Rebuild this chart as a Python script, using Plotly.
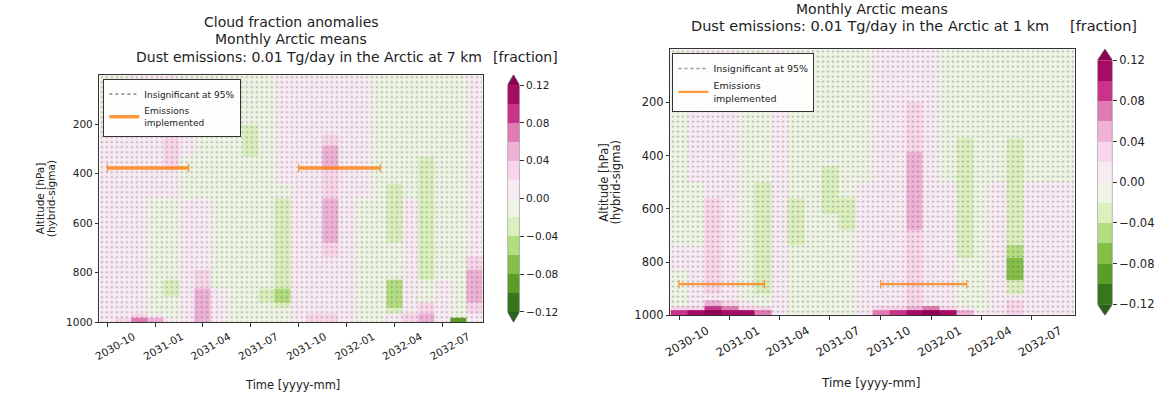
import numpy as np
import pandas as pd
import plotly.graph_objects as go

W, H = 1174, 399
FONT = "DejaVu Sans"
TXT = "#222222"
ORANGE = "#ff7f0e"

# ---------------- data ----------------
months = ["2030-10", "2030-11", "2030-12", "2031-01", "2031-02", "2031-03",
          "2031-04", "2031-05", "2031-06", "2031-07", "2031-08", "2031-09",
          "2031-10", "2031-11", "2031-12", "2032-01", "2032-02", "2032-03",
          "2032-04", "2032-05", "2032-06", "2032-07", "2032-08", "2032-09"]

# model layer interfaces (hPa), top -> surface
level_interfaces_hpa = [0, 12.5, 32.5, 60, 90, 122.5, 160, 200, 241, 285, 333, 385, 441,
                        500, 560, 620, 679, 735, 786, 830, 866, 895, 920, 943, 963.5, 982, 1000]

tick_months = ["2030-10", "2031-01", "2031-04", "2031-07",
               "2031-10", "2032-01", "2032-04", "2032-07"]
ytick_hpa = [200, 400, 600, 800, 1000]

cbar_levels = [-0.12, -0.10, -0.08, -0.06, -0.04, -0.02, 0.0,
               0.02, 0.04, 0.06, 0.08, 0.10, 0.12]
cbar_ticks = [-0.12, -0.08, -0.04, 0.0, 0.04, 0.08, 0.12]
cbar_ticktext = ["\u22120.12", "\u22120.08", "\u22120.04", "0.00", "0.04", "0.08", "0.12"]
band_colors = ["#37771c", "#5a9d29", "#84bf47", "#b3de80", "#dbf0be", "#eef5e4",
               "#f9ebf3", "#fad6ea", "#efb1d6", "#e07cb2", "#cb3289", "#a50c64"]
under_color = "#276419"
over_color = "#8e0152"

# cloud-fraction anomaly, hundredths; one profile per month, layers top -> surface
cf_anom_7km = [
    [-1, -1, -1, -1, -1, -1, -1, 1, 1, 1, 1, 1, 1,   1, 1, 1, 1, 1, 1, 1, 1, 1, 1, 1, 1, 1],
    [-1, -1, -1, -1, -1, 1, 1, 1, 1, 1, 1, 1, 1,     1, 1, 1, 1, 1, 1, 1, 1, 1, 1, 1, 1, 3],
    [1, 1, 1, 1, 1, 1, 1, 1, 1, 1, 1, 1, 1,          1, 1, 1, 1, 1, 1, 1, 1, 1, 1, 1, 3, 7],
    [1, 1, 1, 1, 1, 1, 1, 1, 1, 1, 1, 1, 1,          -1, -1, -1, -1, -1, -1, -1, -1, -1, -1, -1, 1, 5],
    [1, 1, 1, 1, 1, 1, 1, 3, 3, 3, 3, 1, 1,          -1, -1, -1, -1, -1, -1, -3, -3, -1, -1, -1, -1, 1],
    [-1, -1, -1, -1, -1, -1, -1, 1, 1, 1, -1, -1, -1, 1, 1, 1, 1, 1, 1, 1, 1, 1, 1, 1, 1, 1],
    [-1, -1, -1, -1, -1, -1, -1, -1, -1, -1, -1, -1, -1, 1, 1, 1, 1, 1, 3, 3, 5, 5, 5, 5, 5, 5],
    [-1, -1, -1, -1, -1, -1, -1, -1, -1, -1, -1, -1, -1, -1, -1, -1, -1, -1, -1, -1, 1, 1, 1, 1, 1, 1],
    [-1, -1, -1, -1, -1, -1, -1, -1, -1, -1, -1, -1, -1, -1, -1, -1, -1, -1, -1, -1, -1, -1, -1, -1, -1, -1],
    [-1, -1, -1, -1, -1, -1, -1, -3, -3, -3, -1, -1, -1, -1, -1, -1, -1, -1, -1, -1, -1, -1, -1, -1, -1, -1],
    [-1, -1, -1, -1, -1, -1, -1, -1, -1, -1, -1, -1, -1, -1, -1, -1, -1, -1, -1, -1, -3, -3, -1, -1, -1, -1],
    [1, 1, 1, 1, 1, 1, 1, 1, 1, 1, 1, 1, -1,         -3, -3, -3, -3, -3, -3, -3, -5, -5, -3, -1, -1, -1],
    [1, 1, 1, 1, 1, 1, 1, 1, 1, 1, 1, 1, 1,          1, 1, 1, 1, 1, 1, 1, 1, 1, 1, 1, 1, 1],
    [1, 1, 1, 1, 1, 1, 1, 1, 1, 1, 1, 1, 1,          1, 1, 1, 1, 1, 1, 1, 1, 1, 1, 1, 3, 3],
    [1, 1, 1, 1, 1, 1, 1, 1, 3, 5, 5, 3, 3,          5, 5, 5, 3, 1, 1, 1, 1, 1, 1, 1, 3, 3],
    [1, 1, 1, 1, 1, 1, 1, 1, 1, 1, 1, 1, 1,          1, 1, 1, 1, 1, 1, 1, 1, 1, 1, 1, 1, 1],
    [1, 1, 1, 1, 1, 1, 1, 1, 1, 1, 1, 1, 1,          -1, -1, -1, -1, -1, -1, -1, -1, -1, -1, -1, -1, -1],
    [-1, -1, -1, -1, -1, -1, -1, -1, -1, -1, -1, -1, -1, -1, -1, -1, -1, -1, -1, -1, -1, -1, -1, -1, -1, -1],
    [-1, -1, -1, -1, -1, -1, -1, -1, -1, -1, -1, -1, -3, -3, -3, -3, -1, -1, -1, -5, -5, -5, -5, -3, 1, 1],
    [-1, -1, -1, -1, -1, -1, -1, -1, -1, -1, -1, -1, -1, 1, 1, 1, 1, 1, 1, 1, 1, 1, 1, 1, 3, 3],
    [-1, -1, -1, -1, -1, -1, -1, -1, -1, -1, -3, -3, -3, -3, -3, -3, -3, -3, -3, -1, -1, -1, 3, 3, 5, 5],
    [-1, -1, -1, -1, -1, -1, -1, -1, -1, -1, -1, -1, -1, -1, -1, -1, -1, -1, -1, 1, 1, 1, 1, 1, 1, 1],
    [-1, -1, -1, -1, -1, -1, -1, -1, -1, -1, -1, -1, -1, -1, -1, -1, -1, -1, -1, -1, -1, -1, -1, -1, -1, -9],
    [1, 1, 1, 1, 1, 1, 1, 1, 1, 1, 1, 1, 1,          1, 1, 1, 1, 3, 5, 5, 5, 5, 3, 3, 1, 1],
]

cf_anom_1km = [
    [-1, -1, -1, -1, -1, -1, -1, -1, -1, -1, -1, -1, -1, -1, -1, -1, -1, 1, 1, -1, -1, -1, -1, -1, 3, 9],
    [1, 1, 1, 1, 1, 1, 1, 1, 1, 1, 1, 1, 1,          -1, -1, -1, -1, 1, 1, 1, 1, 1, 1, 1, 3, 11],
    [1, 1, 1, 1, 1, 1, 1, 1, 1, 1, 1, 1, 1,          1, 3, 3, 3, 3, 3, 3, 3, 3, 1, 5, 9, 13],
    [1, 1, 1, 1, 1, 1, 1, 1, 1, 1, 1, 1, 1,          1, 1, 1, 1, 1, 1, 1, 1, 1, 1, 3, 7, 11],
    [-1, -1, -1, -1, -1, -1, -1, -1, -1, -1, -1, -1, -1, -1, -1, -1, -1, -1, -1, -1, -1, -1, -1, 1, 3, 11],
    [-1, -1, -1, -1, -1, -1, -1, -1, -1, -1, -1, -1, -1, -3, -3, -3, -3, -3, -3, -3, -3, -3, -1, -1, 3, 7],
    [1, 1, 1, 1, 1, 1, 1, 1, 1, 1, 1, 1, 1,          1, 1, 1, 1, 1, 1, 1, 1, 1, 1, 1, 1, 1],
    [-1, -1, -1, -1, -1, -1, -1, -1, -1, -1, -1, -1, -1, -1, -3, -3, -3, -1, -1, -1, -1, -1, -1, -1, -1, -1],
    [-1, -1, -1, -1, -1, -1, -1, -1, -1, -1, -1, -1, -1, -1, -1, -1, -1, -1, -1, -1, -1, -1, -1, -1, -1, -1],
    [-1, -1, -1, -1, -1, -1, -1, -1, -1, -1, -1, -1, -3, -3, -3, -1, -1, -1, -1, -1, -1, -1, -1, -1, -1, -1],
    [-1, -1, -1, -1, -1, -1, -1, -1, -1, -1, -1, -1, -1, -1, -3, -3, -1, -1, -1, -1, -1, -1, -1, -1, -1, -1],
    [-1, -1, -1, -1, -1, -1, -1, -1, -1, -1, -1, -1, -1, 1, 1, 1, 1, 1, 1, 1, 1, 1, 1, 1, 1, 1],
    [1, 1, 1, 1, 1, 1, 1, 1, 1, 1, 1, 1, 1,          1, 1, 1, 1, 1, 1, 1, 1, 1, 1, 1, 3, 7],
    [1, 1, 1, 1, 1, 1, 1, 1, 1, 1, 1, 1, 1,          1, 1, 1, 1, 1, 1, 1, 1, 1, 1, 1, 3, 9],
    [1, 1, 1, 1, 1, 1, 1, 3, 3, 3, 3, 5, 5,          5, 5, 5, 3, 3, 3, 3, 3, 3, 3, 3, 5, 11],
    [1, 1, 1, 1, 1, 1, 1, 1, 1, 1, 1, 1, 1,          1, 1, 1, 1, 1, 1, 1, 1, 1, 1, 1, 7, 13],
    [-1, -1, -1, -1, -1, -1, -1, -1, -1, -1, -1, -1, -1, 1, 1, 1, 1, 1, 1, 1, 1, 1, 1, 1, 3, 11],
    [-1, -1, -1, -1, -1, -1, -1, -1, -1, -1, -3, -3, -3, -3, -3, -3, -3, -3, -1, -1, -1, -1, -1, -1, 1, 5],
    [-1, -1, -1, -1, -1, -1, -1, -1, -1, -1, -1, -1, -1, -1, -1, -1, -1, -1, -1, -1, -1, -1, -1, -1, -1, 1],
    [-1, -1, -1, -1, -1, -1, -1, -1, -1, -1, -1, -1, -1, 1, 1, 1, 1, 1, 1, 1, 1, 1, 1, 1, 1, 1],
    [-1, -1, -1, -1, -1, -1, -1, -1, -1, -1, -3, -3, -3, -3, -3, -3, -3, -5, -7, -7, -3, -3, 1, 3, 3, 3],
    [-1, -1, -1, -1, -1, -1, -1, -1, -1, -1, -1, -1, -1, 1, 1, 1, 1, 1, 1, 1, 1, 1, 1, 1, 1, 1],
    [-1, -1, -1, -1, -1, -1, -1, -1, -1, -1, -1, -1, -1, 1, 1, 1, 1, 1, 1, 1, 1, 1, 1, 1, 1, 1],
    [-1, -1, -1, -1, -1, -1, -1, -1, -1, -1, -1, -1, -1, 1, 1, 1, 1, 1, 1, 1, 1, 1, 1, 1, 1, 1],
]

# (month index, layer index) significant at 95% -> no stippling
significant_7km = []
significant_1km = [(0, 25), (1, 25), (2, 25), (3, 25), (4, 25),
                   (12, 25), (13, 25), (14, 25), (15, 25), (16, 25)]

emission_periods = [("2030-10-01", "2031-03-05"), ("2031-10-01", "2032-03-05")]
emission_level_7km_hpa = 377
emission_level_1km_hpa = 883

# ---------------- derived geometry ----------------
centers_ms = pd.to_datetime([m + "-01" for m in months]).values.astype("datetime64[ms]").astype("int64").astype(float)
mids = (centers_ms[:-1] + centers_ms[1:]) / 2
edges_ms = np.concatenate([[centers_ms[0] - (centers_ms[1] - centers_ms[0]) / 2], mids,
                           [centers_ms[-1] + (centers_ms[-1] - centers_ms[-2]) / 2]])


def ms2str(v):
    return pd.to_datetime(int(v), unit="ms").strftime("%Y-%m-%d %H:%M:%S")


edge_str = [ms2str(v) for v in edges_ms]

step = cbar_levels[1] - cbar_levels[0]
zmin, zmax = cbar_levels[0] - step, cbar_levels[-1] + step
all_colors = [under_color] + band_colors + [over_color]
ncol = len(all_colors)
colorscale = []
for i, c in enumerate(all_colors):
    colorscale += [[i / ncol, c], [(i + 1) / ncol, c]]


def stipple(sig):
    sigset = set(sig)
    nlev = len(level_interfaces_hpa) - 1
    xs, bases, heights, widths = [], [], [], []
    for i in range(len(months)):
        l = 0
        while l < nlev:
            if (i, l) in sigset:
                l += 1
                continue
            s = l
            while l < nlev and (i, l) not in sigset:
                l += 1
            xs.append(ms2str((edges_ms[i] + edges_ms[i + 1]) / 2))
            bases.append(level_interfaces_hpa[s])
            heights.append(level_interfaces_hpa[l] - level_interfaces_hpa[s])
            widths.append(edges_ms[i + 1] - edges_ms[i])
    return xs, bases, heights, widths


def xdom(a, b):
    return [a / W, b / W]


def ydom(top, bottom):
    return [1 - bottom / H, 1 - top / H]


fig = go.Figure()

panels = [
    dict(data=cf_anom_7km, sig=significant_7km, lev=emission_level_7km_hpa,
         xa="x", ya="y", cx="x3", cy="y3", leg="legend", lw=3.4, cap=0, fs=10.5),
    dict(data=cf_anom_1km, sig=significant_1km, lev=emission_level_1km_hpa,
         xa="x2", ya="y2", cx="x4", cy="y4", leg="legend2", lw=2.2, cap=6, fs=11.5),
]

band_mid = [(cbar_levels[i] + cbar_levels[i + 1]) / 2 for i in range(len(cbar_levels) - 1)]
ext = 0.011

for p in panels:
    z = (np.array(p["data"], dtype=float).T * 0.01).tolist()
    fig.add_trace(go.Heatmap(x=edge_str, y=level_interfaces_hpa, z=z, colorscale=colorscale,
                             zmin=zmin, zmax=zmax, showscale=False, hoverinfo="skip",
                             xaxis=p["xa"], yaxis=p["ya"]))
    xs, bases, heights, widths = stipple(p["sig"])
    fig.add_trace(go.Bar(x=xs, y=heights, base=bases, width=widths,
                         marker=dict(color="rgba(0,0,0,0)", line=dict(width=0),
                                     pattern=dict(shape=".", size=5, solidity=0.14,
                                                  fgcolor="#5e5e5e", fillmode="overlay")),
                         showlegend=False, hoverinfo="skip", xaxis=p["xa"], yaxis=p["ya"]))
    for s, e in emission_periods:
        fig.add_trace(go.Scatter(x=[s, e], y=[p["lev"], p["lev"]], mode="lines+markers",
                                 line=dict(color=ORANGE, width=p["lw"]), opacity=0.8,
                                 marker=dict(symbol="line-ns-open", size=p["cap"],
                                             line=dict(color=ORANGE, width=1.2)),
                                 showlegend=False, hoverinfo="skip",
                                 xaxis=p["xa"], yaxis=p["ya"]))
    # legend proxies
    fig.add_trace(go.Scatter(x=[None], y=[None], mode="lines", name="Insignificant at 95%",
                             line=dict(color="#9a9a9a", width=1.6, dash="dot"),
                             legend=p["leg"], xaxis=p["xa"], yaxis=p["ya"]))
    fig.add_trace(go.Scatter(x=[None], y=[None], mode="lines", name="Emissions<br>implemented",
                             line=dict(color=ORANGE, width=p["lw"]), opacity=0.8,
                             legend=p["leg"], xaxis=p["xa"], yaxis=p["ya"]))
    # colorbar
    fig.add_trace(go.Heatmap(x=[0], y=cbar_levels, z=[[v] for v in band_mid],
                             colorscale=colorscale, zmin=zmin, zmax=zmax, showscale=False,
                             hoverinfo="skip", xaxis=p["cx"], yaxis=p["cy"]))
    top, bot = cbar_levels[-1], cbar_levels[0]
    fig.add_trace(go.Scatter(x=[-0.5, 0.5, 0, -0.5], y=[top, top, top + ext, top], fill="toself",
                             fillcolor=over_color, mode="lines", line=dict(width=0),
                             showlegend=False, hoverinfo="skip", xaxis=p["cx"], yaxis=p["cy"]))
    fig.add_trace(go.Scatter(x=[-0.5, 0.5, 0, -0.5], y=[bot, bot, bot - ext, bot], fill="toself",
                             fillcolor=under_color, mode="lines", line=dict(width=0),
                             showlegend=False, hoverinfo="skip", xaxis=p["cx"], yaxis=p["cy"]))
    fig.add_trace(go.Scatter(x=[-0.5, -0.5, 0, 0.5, 0.5, 0, -0.5],
                             y=[bot, top, top + ext, top, bot, bot - ext, bot],
                             mode="lines", line=dict(color="#555", width=0.8),
                             showlegend=False, hoverinfo="skip", xaxis=p["cx"], yaxis=p["cy"]))


def main_x(dom, anchor, fs, shift):
    return dict(domain=dom, anchor=anchor, type="date", range=[edge_str[0], edge_str[-1]],
                tickmode="array", tickvals=[m + "-01" for m in tick_months], ticktext=tick_months,
                tickangle=-30, ticklabelshift=shift, ticks="outside", ticklen=3.5, tickwidth=1,
                tickcolor="#333", showline=True, linecolor="#333", linewidth=1, mirror=True,
                showgrid=False, zeroline=False,
                tickfont=dict(family=FONT, size=fs, color=TXT))


def main_y(dom, anchor, fs):
    return dict(domain=dom, anchor=anchor,
                range=[level_interfaces_hpa[-1], level_interfaces_hpa[0]],
                tickmode="array", tickvals=ytick_hpa, ticks="outside", ticklen=3.5, tickwidth=1,
                tickcolor="#333", showline=True, linecolor="#333", linewidth=1, mirror=True,
                showgrid=False, zeroline=False,
                tickfont=dict(family=FONT, size=fs, color=TXT))


def cb_x(dom, anchor):
    return dict(domain=dom, anchor=anchor, range=[-0.5, 0.5], visible=False, fixedrange=True)


def cb_y(dom, anchor, fs):
    return dict(domain=dom, anchor=anchor, side="right",
                range=[cbar_levels[0] - ext, cbar_levels[-1] + ext],
                tickmode="array", tickvals=cbar_ticks, ticktext=cbar_ticktext,
                ticks="outside", ticklen=3.5, tickwidth=1, tickcolor="#333",
                showline=False, showgrid=False, zeroline=False,
                tickfont=dict(family=FONT, size=fs, color=TXT))


L = dict(x0=92, x1=478, y0=76, y1=328)
R = dict(x0=667, x1=1074, y0=50, y1=321)

fig.update_layout(
    width=W, height=H, margin=dict(l=0, r=0, t=0, b=0),
    paper_bgcolor="white", plot_bgcolor="white", barmode="overlay", bargap=0,
    xaxis=main_x(xdom(L["x0"], L["x1"]), "y", 10.5, 26),
    yaxis=main_y(ydom(L["y0"], L["y1"]), "x", 10.5),
    xaxis2=main_x(xdom(R["x0"], R["x1"]), "y2", 11.5, 28),
    yaxis2=main_y(ydom(R["y0"], R["y1"]), "x2", 11.5),
    xaxis3=cb_x(xdom(503, 515), "y3"),
    yaxis3=cb_y(ydom(L["y0"], L["y1"]), "x3", 10.5),
    xaxis4=cb_x(xdom(1097, 1112), "y4"),
    yaxis4=cb_y(ydom(R["y0"], R["y1"]), "x4", 11.5),
    legend=dict(x=96 / W, y=1 - 80 / H, xanchor="left", yanchor="top",
                bgcolor="rgba(255,255,255,0.92)", bordercolor="#333", borderwidth=1,
                font=dict(family=FONT, size=9, color=TXT), itemwidth=30, tracegroupgap=0),
    legend2=dict(x=669 / W, y=1 - 54 / H, xanchor="left", yanchor="top",
                 bgcolor="rgba(255,255,255,0.92)", bordercolor="#333", borderwidth=1,
                 font=dict(family=FONT, size=9.5, color=TXT), itemwidth=30, tracegroupgap=0),
)


def txt(x, y, s, size, xanchor="center", angle=0):
    return dict(x=x / W, y=1 - y / H, xref="paper", yref="paper", text=s, showarrow=False,
                xanchor=xanchor, yanchor="middle", textangle=angle,
                font=dict(family=FONT, size=size, color=TXT))


annotations = [
    txt(285, 22, "Cloud fraction anomalies", 14),
    txt(285, 40, "Monthly Arctic means", 14),
    txt(303, 58, "Dust emissions: 0.01 Tg/day in the Arctic at 7 km", 14),
    txt(521, 58, "[fraction]", 14),
    txt(33, 202, "Altitude [hPa]", 10.5, angle=-90),
    txt(44, 202, "(hybrid-sigma)", 10.5, angle=-90),
    txt(286, 392, "Time [yyyy-mm]", 11.5),
    txt(870, 9, "Monthly Arctic means", 14),
    txt(868, 26, "Dust emissions: 0.01 Tg/day in the Arctic at 1 km", 14.5),
    txt(1103, 26, "[fraction]", 14.5),
    txt(600, 186, "Altitude [hPa]", 11.5, angle=-90),
    txt(612, 186, "(hybrid-sigma)", 11.5, angle=-90),
    txt(868, 390, "Time [yyyy-mm]", 12),
]
fig.update_layout(annotations=annotations)

fig.write_html("out.html")
